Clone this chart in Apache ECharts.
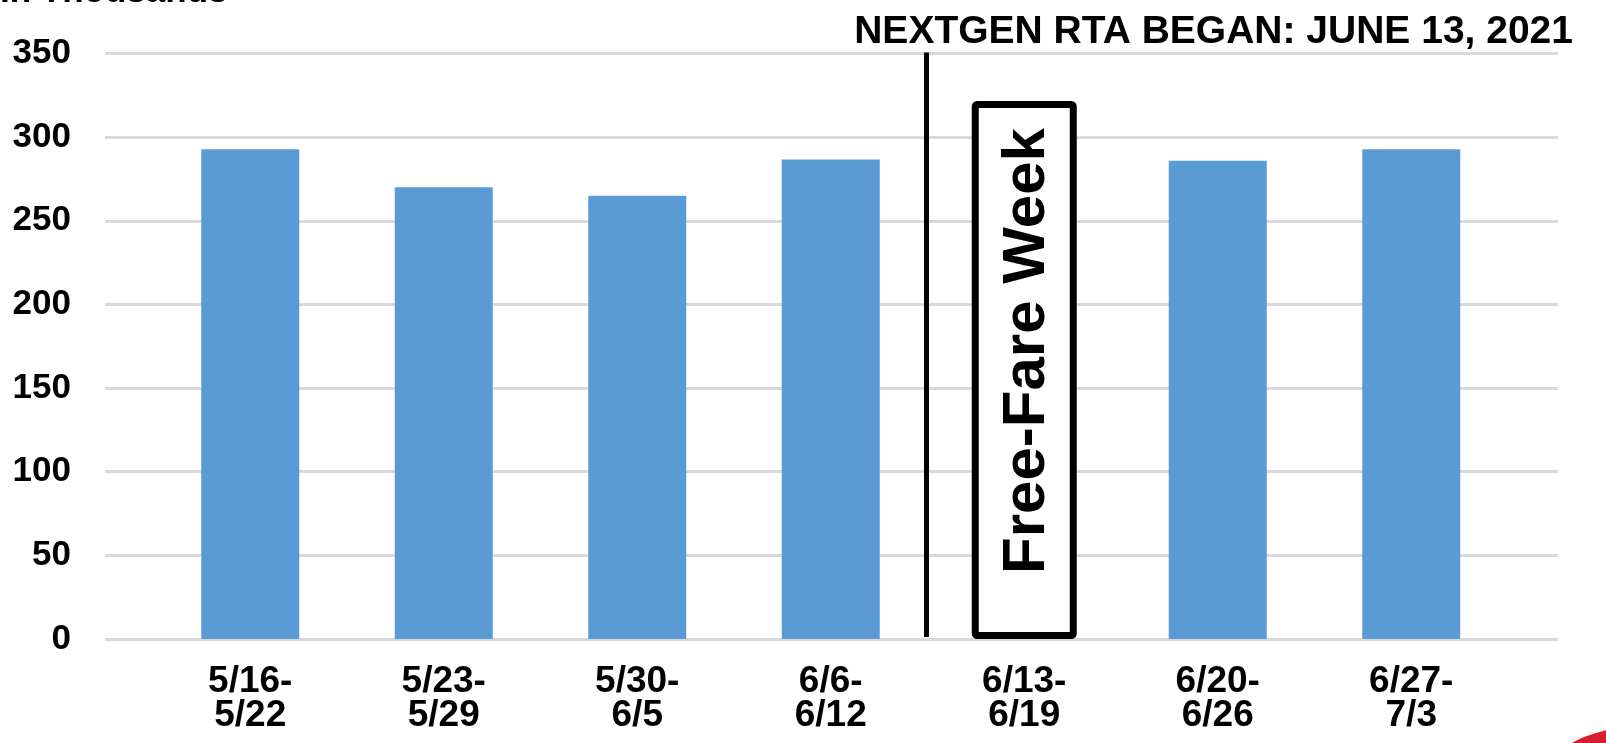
<!DOCTYPE html>
<html>
<head>
<meta charset="utf-8">
<script src="https://cdn.jsdelivr.net/npm/echarts@6/dist/echarts.min.js"></script>
<style>
html,body{margin:0;padding:0;background:#fff;}
#chart{width:1606px;height:743px;}
</style>
</head>
<body>
<div id="chart"></div>
<script>
const categories = ['5/16-\n5/22', '5/23-\n5/29', '5/30-\n6/5', '6/6-\n6/12', '6/13-\n6/19', '6/20-\n6/26', '6/27-\n7/3'];
const ridership = [292.7, 270.0, 265.0, 286.7, null, 285.9, 292.7];
const freeFareBox = [null, null, null, null, 321.6, null, null];
const yMin = 0, yMax = 350, yInterval = 50;
const titleText = 'NEXTGEN RTA BEGAN: JUNE 13, 2021';
const unitText = 'In Thousands';
const freeFareText = 'Free-Fare Week';

const FONT = "'Liberation Sans', Arial, sans-serif";
const chart = echarts.init(document.getElementById('chart'));

const option = {
  backgroundColor: '#ffffff',
  animation: false,
  title: {
    text: titleText,
    right: 33,
    top: 13,
    padding: 0,
    textStyle: { fontFamily: FONT, fontSize: 39, fontWeight: 'bold', color: '#000' }
  },
  grid: [
    { left: 105, right: 48, top: 53.5, bottom: 104 },
    { left: 153.5, right: 98, top: 53.5, bottom: 104 }
  ],
  xAxis: [
    { type: 'value', gridIndex: 0, min: 0, max: 1, show: false },
    {
      type: 'category', gridIndex: 1, data: categories,
      axisLine: { show: false }, axisTick: { show: false },
      axisLabel: { fontFamily: FONT, fontSize: 37, fontWeight: 'bold', color: '#000', lineHeight: 34, margin: 26, interval: 0 }
    },
    { type: 'category', gridIndex: 1, data: categories, show: false }
  ],
  yAxis: [
    {
      type: 'value', gridIndex: 0, min: yMin, max: yMax, interval: yInterval,
      axisLine: { show: false }, axisTick: { show: false },
      splitLine: { show: true, lineStyle: { color: '#d9d9d9', width: 3 } },
      axisLabel: { fontFamily: FONT, fontSize: 35, fontWeight: 'bold', color: '#000', margin: 34 }
    },
    { type: 'value', gridIndex: 1, min: yMin, max: yMax, show: false }
  ],
  series: [
    {
      type: 'bar', xAxisIndex: 2, yAxisIndex: 1, data: freeFareBox,
      barWidth: 105, z: 3,
      itemStyle: { color: '#ffffff', borderColor: '#000', borderWidth: 7, borderRadius: 2 },
      label: {
        show: true, position: 'inside', rotate: 90, formatter: freeFareText,
        fontFamily: FONT, fontSize: 60, fontWeight: 'bold', color: '#000', offset: [19, 3]
      }
    },
    {
      type: 'bar', xAxisIndex: 1, yAxisIndex: 1, data: ridership,
      barWidth: 98, z: 2,
      itemStyle: { color: '#5b9bd5' }
    }
  ]
};
chart.setOption(option);

// vertical divider at boundary between 6/6 week and 6/13 week
const p3 = chart.convertToPixel({ xAxisIndex: 1, yAxisIndex: 1 }, [3, yMax]);
const p4 = chart.convertToPixel({ xAxisIndex: 1, yAxisIndex: 1 }, [4, yMin]);
const xLine = (p3[0] + p4[0]) / 2 - 1;
chart.setOption({
  graphic: [
    {
      type: 'line', z: 10,
      shape: { x1: xLine, y1: p3[1] - 1, x2: xLine, y2: p4[1] - 2 },
      style: { stroke: '#000', lineWidth: 5 }
    },
    {
      type: 'text', left: 0, top: -25, z: 10,
      style: { text: unitText, fontFamily: FONT, fontSize: 35, fontWeight: 'bold', fill: '#000' }
    },
    {
      type: 'circle', z: 10,
      shape: { cx: 1635, cy: 860, r: 133 },
      style: { fill: '#d71f2f' }
    }
  ]
});
</script>
</body>
</html>
